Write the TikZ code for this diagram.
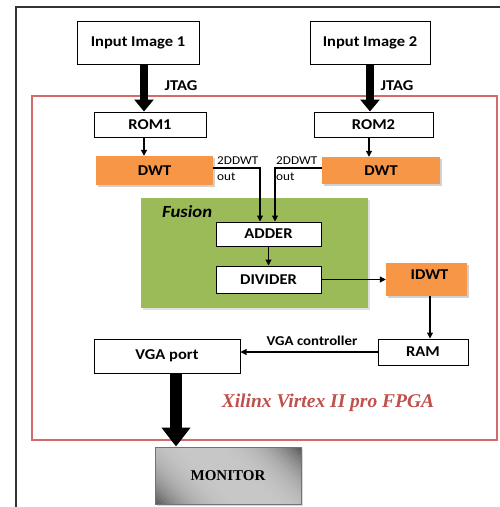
\documentclass[tikz,border=0pt]{standalone}
\usepackage{fontspec}
\setmainfont{Carlito}[FakeStretch=1.1]
\newfontfamily\serifbf{Liberation Serif}
\usetikzlibrary{arrows.meta,shadows}
\definecolor{dwtorange}{HTML}{F79646}
\definecolor{fusiongreen}{HTML}{9BBB59}
\definecolor{fpgared}{HTML}{C0504D}
\definecolor{framered}{HTML}{D46A6A}
\begin{document}
\begin{tikzpicture}[x=1pt,y=-1pt,
  blk/.style={draw=black,line width=1pt,fill=white,inner sep=0pt,font=\fontsize{15}{15}\selectfont\bfseries},
  orng/.style={fill=dwtorange,inner sep=0pt,font=\fontsize{15}{15}\selectfont\bfseries,
     drop shadow={shadow xshift=1.5pt,shadow yshift=-1.5pt,fill=black!18,opacity=1}},
  arr/.style={line width=1.1pt,-{Triangle[width=6pt,length=6pt]}},
  bigarr/.style={line width=8pt,-{Triangle[width=19pt,length=12pt]}},
  hugearr/.style={line width=12pt,-{Triangle[width=28pt,length=19pt]}},
  smalltxt/.style={inner sep=0pt,font=\fontsize{12}{12}\selectfont},
  lbl/.style={inner sep=0pt,font=\fontsize{15}{15}\selectfont\bfseries}]
\useasboundingbox (0,0) rectangle (500,507);
% outer frame
\draw[line width=2.2pt,black!80] (16,507) -- (16,7) -- (500,7);
% FPGA frame
\draw[line width=1.6pt,framered] (32,96) rectangle (497,440);
% fusion area
\node[fill=fusiongreen,minimum width=227pt,minimum height=110pt,inner sep=0pt,
  drop shadow={shadow xshift=2pt,shadow yshift=-2pt,fill=black!12,opacity=1}] (fusion) at (254.5,253) {};
\node[anchor=west,inner sep=0pt,font=\fontsize{17}{17}\selectfont\bfseries\itshape] (fuslbl) at (162,212) {Fusion};
% nodes
\node[blk,minimum width=122pt,minimum height=43pt] (img1) at (138,42.5) {Input Image 1};
\node[blk,minimum width=120pt,minimum height=43pt] (img2) at (370,42.5) {Input Image 2};
\node[blk,minimum width=112pt,minimum height=25pt] (rom1) at (150,124.5) {ROM1};
\node[blk,minimum width=119pt,minimum height=25pt] (rom2) at (373.5,124.5) {ROM2};
\node[orng,minimum width=117pt,minimum height=29pt] (dwt1) at (154.5,170.5) {DWT};
\node[orng,minimum width=118pt,minimum height=27pt] (dwt2) at (381,170.5) {DWT};
\node[blk,minimum width=105pt,minimum height=24pt] (adder) at (268.5,234) {ADDER};
\node[blk,minimum width=105pt,minimum height=27pt] (divider) at (268.5,279.5) {DIVIDER};
\node[orng,minimum width=81pt,minimum height=33pt,text depth=10pt] (idwt) at (426.5,279.5) {\hspace*{6pt}IDWT};
\node[blk,minimum width=90pt,minimum height=26pt] (ram) at (423,352) {RAM};
\node[blk,minimum width=146pt,minimum height=34pt] (vga) at (167,356) {VGA port};
% monitor with hand-made gradient
\fill[black!15] (157,449) rectangle (303,506);
\begin{scope}
  \clip (155,447) rectangle (301,504);
  \begin{scope}[shift={(228,475.5)},rotate=45]
    \foreach \i in {0,...,47} {
      \pgfmathsetmacro{\tt}{abs(\i/47-0.5)*2}
      \pgfmathsetmacro{\lv}{22+42*\tt*\tt*\tt}
      \fill[black!\lv] (-72+\i*3,-130) rectangle (-72+\i*3+3.3,130);
    }
  \end{scope}
\end{scope}
\node[draw=black!55,line width=1pt,minimum width=146pt,minimum height=57pt,inner sep=0pt,
  font=\serifbf\fontsize{15}{15}\selectfont\bfseries] (monitor) at (228,475.5) {MONITOR};
% labels
\node[lbl] (jtag1) at (181,86) {JTAG};
\node[lbl] (jtag2) at (397,86) {JTAG};
\node[smalltxt,anchor=west] (o1a) at (217,161) {2DDWT};
\node[smalltxt,anchor=west] (o1b) at (217,176.5) {out};
\node[smalltxt,anchor=west] (o2a) at (276,161) {2DDWT};
\node[smalltxt,anchor=west] (o2b) at (276,176.5) {out};
\node[inner sep=0pt,font=\fontsize{13.5}{13.5}\selectfont\bfseries] (vgactl) at (312,341) {VGA controller};
\node[inner sep=0pt,text=fpgared,font=\serifbf\fontsize{19.5}{19.5}\selectfont\bfseries\itshape] (fpgalbl) at (328,403) {Xilinx Virtex II pro FPGA};
% connectors
\draw[bigarr] ([xshift=6pt]img1.south) -- ([xshift=6pt]img1.south |- rom1.north);
\draw[bigarr] (img2.south) -- (img2.south |- rom2.north);
\draw[arr] ([xshift=-6pt]rom1.south) -- ([xshift=-6pt]rom1.south |- dwt1.north);
\draw[arr] ([xshift=-4.5pt]rom2.south) -- ([xshift=-4.5pt]rom2.south |- dwt2.north);
\coordinate (j1) at (260,168);
\coordinate (j2) at (275,168);
\draw[arr] (dwt1.east |- j1) -- (j1) -- (j1 |- adder.north);
\draw[arr] (dwt2.west |- j2) -- (j2) -- (j2 |- adder.north);
\draw[arr] (adder.south) -- (divider.north);
\draw[arr] (divider.east) -- (idwt.west |- divider.east);
\draw[arr] ([xshift=3.5pt]idwt.south) -- ([xshift=3.5pt]idwt.south |- ram.north);
\draw[arr] (ram.west) -- (vga.east |- ram.west);
\draw[hugearr] ([xshift=9pt]vga.south) -- ([xshift=9pt]vga.south |- monitor.north);
\end{tikzpicture}
\end{document}
